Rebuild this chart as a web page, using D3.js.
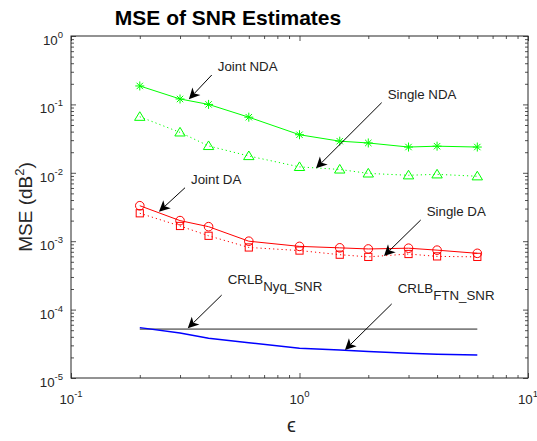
<!DOCTYPE html>
<html>
<head>
<meta charset="utf-8">
<script src="https://cdn.jsdelivr.net/npm/d3@7"></script>
<style>
  body { margin: 0; background: #fff; }
  svg { font-family: Arial, "Liberation Sans", Helvetica, sans-serif; }
</style>
</head>
<body>
<svg width="537" height="441"></svg>
<script>
// epsilon values (x) shared by every series
var eps = [0.2, 0.3, 0.4, 0.6, 1, 1.5, 2, 3, 4, 6];

var jointNDA  = [0.186, 0.12, 0.1, 0.065, 0.036, 0.029, 0.0273, 0.0238, 0.0245, 0.0238];
var singleNDA = [0.066, 0.039, 0.0247, 0.0176, 0.0122, 0.0112, 0.0098, 0.0092, 0.0095, 0.0089];
var jointDA   = [0.0033, 0.002, 0.00163, 0.001, 0.00084, 0.0008, 0.00077, 0.00079, 0.00074, 0.000665];
var singleDA  = [0.00256, 0.00167, 0.0012, 0.00081, 0.00073, 0.000635, 0.00059, 0.00065, 0.0006, 0.00059];
var crlbNyq   = [5.2e-5, 5.2e-5, 5.2e-5, 5.2e-5, 5.2e-5, 5.2e-5, 5.2e-5, 5.2e-5, 5.2e-5, 5.2e-5];
var crlbFTN   = [5.45e-5, 4.55e-5, 3.8e-5, 3.28e-5, 2.72e-5, 2.56e-5, 2.45e-5, 2.3e-5, 2.22e-5, 2.17e-5];

var xTickExp = [-1, 0, 1];
var yTickExp = [-5, -4, -3, -2, -1, 0];

// arrows: tail and tip in data units
var notes = [
  {text: "Joint NDA",  tail: [0.413, 0.269],  tip: [0.328, 0.119]},
  {text: "Single NDA", tail: [2.289, 0.106],  tip: [1.181, 0.01164]},
  {text: "Joint DA",   tail: [0.3155, 0.00605], tip: [0.2426, 0.0027]},
  {text: "Single DA",  tail: [3.392, 0.00204], tip: [2.343, 0.000608]},
  {text: "CRLB", sub: "Nyq_SNR", tail: [0.4565, 1.63e-4], tip: [0.3243, 5.33e-5]},
  {text: "CRLB", sub: "FTN_SNR", tail: [2.532, 1.21e-4],  tip: [1.581, 2.57e-5]}
];

var svg = d3.select("svg");
var pLeft = 71, pRight = 528, pTop = 36, pBottom = 378;
var axisColor = "#262626";

var x = d3.scaleLog().domain([0.1, 10]).range([pLeft, pRight]);
var y = d3.scaleLog().domain([1e-5, 1]).range([pBottom, pTop]);

var majX = xTickExp.map(function(e) { return Math.pow(10, e); });
var majY = yTickExp.map(function(e) { return Math.pow(10, e); });
function isMajor(list, t) {
  return list.some(function(m) { return Math.abs(m - t) / t < 1e-9; });
}
var minX = x.ticks().filter(function(t) { return !isMajor(majX, t); });
var minY = y.ticks().filter(function(t) { return !isMajor(majY, t); });

function axisLayer(axis, tx, ty) {
  var g = svg.append("g")
    .attr("transform", "translate(" + tx + "," + ty + ")")
    .call(axis);
  g.select(".domain").remove();
  g.selectAll("line").attr("stroke", axisColor).attr("stroke-width", 0.8);
  g.selectAll("text").remove();
}

// ticks on all four sides, pointing in
axisLayer(d3.axisBottom(x).tickValues(majX).tickSize(-5), 0, pBottom);
axisLayer(d3.axisBottom(x).tickValues(minX).tickSize(-3), 0, pBottom);
axisLayer(d3.axisTop(x).tickValues(majX).tickSize(-5), 0, pTop);
axisLayer(d3.axisTop(x).tickValues(minX).tickSize(-3), 0, pTop);
axisLayer(d3.axisLeft(y).tickValues(majY).tickSize(-5), pLeft, 0);
axisLayer(d3.axisLeft(y).tickValues(minY).tickSize(-3), pLeft, 0);
axisLayer(d3.axisRight(y).tickValues(majY).tickSize(-5), pRight, 0);
axisLayer(d3.axisRight(y).tickValues(minY).tickSize(-3), pRight, 0);

svg.append("rect")
  .attr("x", pLeft).attr("y", pTop)
  .attr("width", pRight - pLeft).attr("height", pBottom - pTop)
  .attr("fill", "none").attr("stroke", axisColor).attr("stroke-width", 1);

// tick labels
var xl = svg.append("g").attr("fill", axisColor).attr("font-size", 13.3);
xTickExp.forEach(function(e) {
  var t = xl.append("text")
    .attr("x", x(Math.pow(10, e))).attr("y", pBottom + 26)
    .attr("text-anchor", "middle");
  t.append("tspan").text("10");
  t.append("tspan").attr("dy", -7).attr("font-size", 9.5).text(e < 0 ? "-" + (-e) : e);
});
var yl = svg.append("g").attr("fill", axisColor).attr("font-size", 13.3);
yTickExp.forEach(function(e) {
  var t = yl.append("text")
    .attr("x", pLeft - 8).attr("y", y(Math.pow(10, e)) + 9)
    .attr("text-anchor", "end");
  t.append("tspan").text("10");
  t.append("tspan").attr("dy", -7).attr("font-size", 9.5).text(e < 0 ? "-" + (-e) : e);
});

// titles
svg.append("text")
  .attr("x", 228).attr("y", 25)
  .attr("text-anchor", "middle")
  .attr("font-size", 21).attr("font-weight", "bold")
  .attr("fill", "#000")
  .text("MSE of SNR Estimates");

var yt = svg.append("text")
  .attr("transform", "translate(32," + ((pTop + pBottom) / 2) + ") rotate(-90)")
  .attr("text-anchor", "middle")
  .attr("font-size", 19)
  .attr("fill", axisColor);
yt.append("tspan").text("MSE (dB");
yt.append("tspan").attr("dy", -8).attr("font-size", 13).text("2");
yt.append("tspan").attr("dy", 8).text(")");

svg.append("text")
  .attr("x", (pLeft + pRight) / 2 - 8).attr("y", 432)
  .attr("text-anchor", "middle")
  .attr("font-size", 20)
  .attr("fill", axisColor)
  .text("\u03f5");

// series
var line = d3.line()
  .x(function(d) { return x(d[0]); })
  .y(function(d) { return y(d[1]); });

function pairs(vals) { return eps.map(function(e, i) { return [e, vals[i]]; }); }

var plot = svg.append("g");

function drawSeries(vals, color, width, dash) {
  plot.append("path")
    .datum(pairs(vals))
    .attr("d", line)
    .attr("fill", "none")
    .attr("stroke", color)
    .attr("stroke-width", width)
    .attr("stroke-dasharray", dash);
}

function drawMarkers(vals, color, kind) {
  var g = plot.append("g").attr("fill", "none").attr("stroke", color).attr("stroke-width", 1);
  pairs(vals).forEach(function(d) {
    var cx = x(d[0]), cy = y(d[1]);
    if (kind == "circle") {
      g.append("circle").attr("cx", cx).attr("cy", cy).attr("r", 4.3);
    } else if (kind == "square") {
      g.append("rect").attr("x", cx - 3.6).attr("y", cy - 3.6).attr("width", 7.2).attr("height", 7.2);
    } else if (kind == "triangle") {
      g.append("path").attr("d", "M" + cx + "," + (cy - 5) + "L" + (cx + 5.2) + "," + (cy + 3.6) + "L" + (cx - 5.2) + "," + (cy + 3.6) + "Z");
    } else {
      var r = 4.5, q = 3.2;
      g.append("path").attr("d",
        "M" + (cx - r) + "," + cy + "L" + (cx + r) + "," + cy +
        "M" + cx + "," + (cy - r) + "L" + cx + "," + (cy + r) +
        "M" + (cx - q) + "," + (cy - q) + "L" + (cx + q) + "," + (cy + q) +
        "M" + (cx - q) + "," + (cy + q) + "L" + (cx + q) + "," + (cy - q));
    }
  });
}

drawSeries(crlbNyq, "#808080", 1.8, null);
drawSeries(crlbFTN, "#0000ff", 1.5, null);
drawSeries(singleDA, "#ff0000", 1, "1.2,3");
drawSeries(jointDA, "#ff0000", 1, null);
drawSeries(singleNDA, "#00ff00", 1, "1.2,3");
drawSeries(jointNDA, "#00ff00", 1, null);

drawMarkers(singleDA, "#ff0000", "square");
drawMarkers(jointDA, "#ff0000", "circle");
drawMarkers(singleNDA, "#00ff00", "triangle");
drawMarkers(jointNDA, "#00ff00", "star");

// annotations
var ann = svg.append("g");
notes.forEach(function(n) {
  var x0 = x(n.tail[0]), y0 = y(n.tail[1]);
  var x1 = x(n.tip[0]),  y1 = y(n.tip[1]);
  var dx = x1 - x0, dy = y1 - y0, len = Math.sqrt(dx * dx + dy * dy);
  var ux = dx / len, uy = dy / len, nx = -uy, ny = ux;
  var L = 11, W = 5.5, notch = 8;
  var bx = x1 - L * ux, by = y1 - L * uy;
  var mx = x1 - notch * ux, my = y1 - notch * uy;
  ann.append("line")
    .attr("x1", x0).attr("y1", y0).attr("x2", mx).attr("y2", my)
    .attr("stroke", "#000").attr("stroke-width", 1);
  ann.append("path")
    .attr("d", "M" + x1 + "," + y1 + "L" + (bx + W * nx) + "," + (by + W * ny) +
               "L" + mx + "," + my + "L" + (bx - W * nx) + "," + (by - W * ny) + "Z")
    .attr("fill", "#000");
  var t = ann.append("text")
    .attr("x", x0 + 6).attr("y", y0 - (n.sub ? 11 : 4))
    .attr("font-size", 13.3).attr("fill", "#222");
  t.append("tspan").text(n.text);
  if (n.sub) t.append("tspan").attr("dy", 7).text(n.sub);
});
</script>
</body>
</html>
